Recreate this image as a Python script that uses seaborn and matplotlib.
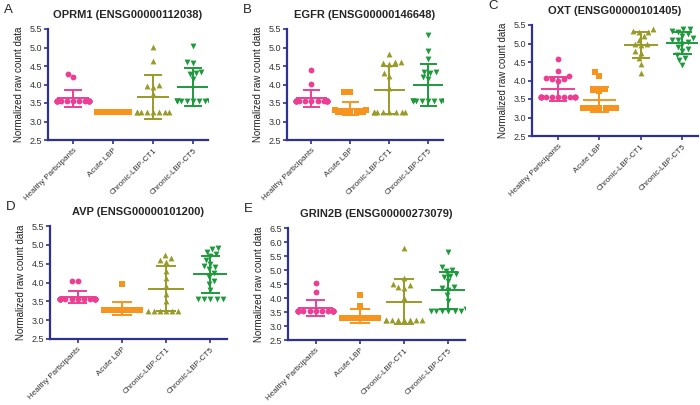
import numpy as np
import pandas as pd
import seaborn as sns
import matplotlib.pyplot as plt

sns.set_style('white')
plt.rcParams['font.family'] = ['Liberation Sans', 'DejaVu Sans']

groups = ['Healthy Participants', 'Acute LBP', 'Chronic-LBP-CT1', 'Chronic-LBP-CT5']
colors = ['#ec3f94', '#f7941d', '#9a9a28', '#1e9a3c']
markers = ['o', 's', '^', 'v']
navy = '#2e3192'

# panel A - OPRM1
oprm1_healthy = [4.28, 4.2] + [3.55] * 15
oprm1_acute = [3.27] * 16
oprm1_ct1 = [5.02, 4.63, 3.98, 3.93, 3.97, 3.75] + [3.25] * 8
oprm1_ct5 = [5.05, 4.6, 4.58, 4.35, 4.3, 4.28, 4.15] + [3.55] * 10

# panel B - EGFR
egfr_healthy = [4.4, 4.02] + [3.55] * 15
egfr_acute = [3.8, 3.8] + [3.3] * 10 + [3.25] * 5
egfr_ct1 = [4.82, 4.62, 4.6, 4.58, 4.55, 4.3, 4.22, 3.9] + [3.25] * 8
egfr_ct5 = [5.35, 4.9, 4.7, 4.35, 4.3, 4.33, 4.2, 4.15] + [3.55] * 10

# panel C - OXT
oxt_healthy = [4.58, 4.25, 4.12, 4.08, 4.05, 4.05, 4.0] + [3.55] * 12
oxt_acute = [4.22, 4.12, 3.78, 3.75, 3.72] + [3.27] * 10
oxt_ct1 = [5.38, 5.35, 5.32, 5.3, 5.2, 5.1, 5.0, 4.98, 4.95, 4.8, 4.75, 4.6, 4.45, 4.2]
oxt_ct5 = [5.4, 5.38, 5.35, 5.3, 5.25, 5.2, 5.15, 5.1, 5.1, 5.05, 5.0, 4.9,
           4.85, 4.8, 4.7, 4.6, 4.55, 4.42]

# panel D - AVP
avp_healthy = [4.05, 4.05] + [3.55] * 15
avp_acute = [3.95] + [3.27] * 14
avp_ct1 = [4.72, 4.65, 4.6, 4.55, 4.3, 4.12, 3.92, 3.7, 3.5] + [3.25] * 6
avp_ct5 = [4.92, 4.88, 4.82, 4.75, 4.7, 4.6, 4.5, 4.45, 4.4, 4.35, 4.25, 4.15,
           4.05, 3.95, 3.8] + [3.55] * 5

# panel E - GRIN2B
grin2b_healthy = [4.55, 4.22] + [3.55] * 15
grin2b_acute = [4.12, 3.72] + [3.27] * 13
grin2b_ct1 = [5.78, 4.7, 4.5, 4.45, 4.4, 4.35, 4.0] + [3.22] * 8
grin2b_ct5 = [5.65, 5.1, 5.0, 4.95, 4.85, 4.8, 4.75, 4.6, 4.4, 4.35, 4.3, 4.1,
              3.9, 3.6] + [3.55] * 6

panels = [
    ('A', 'OPRM1 (ENSG00000112038)', [oprm1_healthy, oprm1_acute, oprm1_ct1, oprm1_ct5], (2.5, 5.5)),
    ('B', 'EGFR (ENSG00000146648)', [egfr_healthy, egfr_acute, egfr_ct1, egfr_ct5], (2.5, 5.5)),
    ('C', 'OXT (ENSG00000101405)', [oxt_healthy, oxt_acute, oxt_ct1, oxt_ct5], (2.5, 5.5)),
    ('D', 'AVP (ENSG00000101200)', [avp_healthy, avp_acute, avp_ct1, avp_ct5], (2.5, 5.5)),
    ('E', 'GRIN2B (ENSG00000273079)', [grin2b_healthy, grin2b_acute, grin2b_ct1, grin2b_ct5], (2.5, 6.5)),
]

# axes boxes in pixels: left, right, top, bottom
boxes = [(48, 208, 29, 140), (287, 443, 29, 140), (532, 698, 25, 136),
         (50, 227, 226, 339), (288, 465, 228, 340)]

W, H = 700, 405
fig = plt.figure(figsize=(7, 4.05), dpi=100)

for (letter, title, vals, ylim), (l, r, t, b) in zip(panels, boxes):
    ax = fig.add_axes([l / W, (H - b) / H, (r - l) / W, (b - t) / H])
    rows = []
    for g, v in zip(groups, vals):
        for y in v:
            rows.append({'group': g, 'value': y})
    df = pd.DataFrame(rows)
    ax.set_xlim(-0.625, 3.375)
    ax.set_ylim(*ylim)
    for i, g in enumerate(groups):
        sns.swarmplot(data=df[df['group'] == g], x='group', y='value', order=groups,
                      color=colors[i], marker=markers[i], size=4.2, linewidth=0,
                      warn_thresh=1.0, ax=ax)
        v = np.array(vals[i])
        m, s = v.mean(), v.std(ddof=1)
        ax.hlines(m, i - 0.4, i + 0.4, color=colors[i], lw=1.4, zorder=5)
        ax.hlines([m - s, m + s], i - 0.22, i + 0.22, color=colors[i], lw=1.4, zorder=5)
        ax.vlines(i, m - s, m + s, color=colors[i], lw=1.4, zorder=5)

    ax.set_xlim(-0.625, 3.375)
    ax.set_ylim(*ylim)
    ticks = np.arange(ylim[0], ylim[1] + 0.01, 0.5)
    ax.set_yticks(ticks)
    ax.set_yticklabels([f'{y:.1f}' for y in ticks])
    ax.set_xlabel('')
    ax.set_ylabel('Normalized raw count data', fontsize=7, color='#222222')
    ax.set_xticks(range(4))
    ax.set_xticklabels(groups, rotation=45, ha='right', rotation_mode='anchor',
                       fontsize=5.8, color='#333333')
    ax.tick_params(axis='y', labelsize=6.5, labelcolor='#333333', length=3,
                   width=1.2, color=navy, direction='out', left=True, pad=1)
    ax.tick_params(axis='x', length=3, width=1.2, color=navy, direction='out',
                   bottom=True, pad=2)
    for side in ['top', 'right']:
        ax.spines[side].set_visible(False)
    for side in ['left', 'bottom']:
        ax.spines[side].set_color(navy)
        ax.spines[side].set_linewidth(1.6)
    ax.set_title(title, fontsize=8, fontweight='bold', pad=8)
    fig.text((l - 44) / W, (H - t + 13) / H, letter, fontsize=9.5, va='bottom', ha='left')

fig.savefig('out.png', dpi=100)
